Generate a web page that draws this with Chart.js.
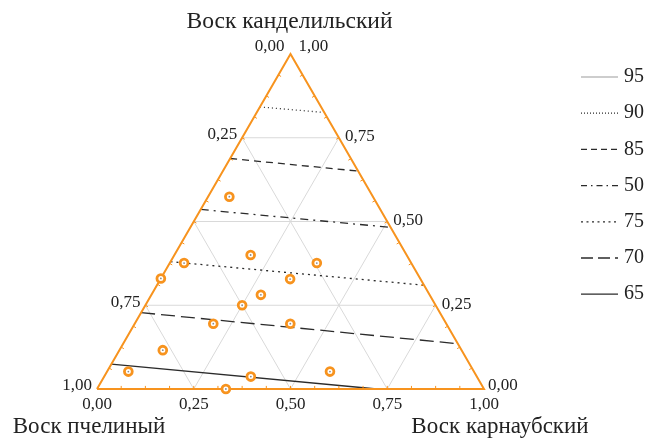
<!DOCTYPE html>
<html lang="ru">
<head>
<meta charset="utf-8">
<title>Воск: тройная диаграмма</title>
<script src="https://cdn.jsdelivr.net/npm/chart.js@4/dist/chart.umd.min.js"></script>
<style>
  html, body { margin: 0; padding: 0; background: #fff; }
  #wrap { width: 648px; height: 438px; }
</style>
</head>
<body>
<div id="wrap"><canvas id="chart" width="648" height="438"></canvas></div>
<script>
// Component names (one per triangle vertex)
const axisBeeswax = 'Воск пчелиный';
const axisCarnauba = 'Воск карнаубский';
const axisCandelilla = 'Воск канделильский';

// Major tick fractions shared by all three axes
const tickValues = [0, 0.25, 0.5, 0.75, 1];
const minorStep = 1 / 16;

// Sample compositions (fractions of carnauba and candelilla; beeswax is the rest)
const sampleCarnauba   = [0.055, 0.197, 0.037, 0.380, 0.000, 0.335, 0.283, 0.250, 0.203, 0.402, 0.112, 0.055, 0.379, 0.576, 0.333];
const sampleCandelilla = [0.574, 0.400, 0.376, 0.376, 0.330, 0.328, 0.281, 0.250, 0.195, 0.195, 0.116, 0.052, 0.037, 0.052, 0.000];

// Iso-lines: level labels and their end points
const contourLevels = ['95', '90', '85', '50', '75', '70', '65'];
const contourStartCarnauba   = [null, 0.000, 0.000, 0.000, 0.000, 0.000, 0.000];
const contourStartCandelilla = [null, 0.842, 0.688, 0.536, 0.380, 0.228, 0.074];
const contourEndCarnauba     = [null, 0.168, 0.345, 0.512, 0.688, 0.857, 0.723];
const contourEndCandelilla   = [null, 0.826, 0.651, 0.483, 0.310, 0.136, 0.000];

// Styling
const ORANGE = '#F7931E';
const GRID = '#d9d9d9';
const INK = '#2b2b2b';
const contourDash = [[], [1, 3], [7, 5], [8, 5, 2, 5], [2, 4], [14, 6], []];
const legendDash  = [[], [1, 2], [6, 4], [6, 4, 1.5, 4], [2, 3.5], [12, 5], []];
const contourColor = ['#bdbdbd', INK, INK, INK, INK, INK, INK];
const SERIF = '"Liberation Serif", "DejaVu Serif", serif';

const H = Math.sqrt(3) / 2;
// ternary (carnauba, candelilla) -> cartesian
function tern(k, c) { return { x: k + c / 2, y: c * H }; }
const GAP = { x: null, y: null };

// Grid lines at the inner major ticks
const gridData = [];
tickValues.filter(t => t > 0 && t < 1).forEach(t => {
  gridData.push(tern(0, t), tern(1 - t, t), GAP);          // constant candelilla
  gridData.push(tern(t, 0), tern(t, 1 - t), GAP);          // constant carnauba
  gridData.push(tern(1 - t, 0), tern(0, 1 - t), GAP);      // constant beeswax
});

// Small inward ticks along the three edges
const tickLen = 0.008;
const tickData = [];
for (let i = 1; i < 16; i++) {
  const t = i * minorStep;
  // bottom edge, pointing up
  let p = tern(t, 0);
  tickData.push(p, { x: p.x, y: p.y + tickLen }, GAP);
  // left edge, pointing down-right
  p = tern(0, t);
  tickData.push(p, { x: p.x + tickLen * H, y: p.y - tickLen * 0.5 }, GAP);
  // right edge, pointing down-left
  p = tern(1 - t, t);
  tickData.push(p, { x: p.x - tickLen * H, y: p.y - tickLen * 0.5 }, GAP);
}

const frameData = [tern(0, 0), tern(1, 0), tern(0, 1), tern(0, 0)];
const sampleData = sampleCarnauba.map((k, i) => tern(k, sampleCandelilla[i]));

const datasets = [];
datasets.push({ label: 'centre', data: sampleData, showLine: false, pointRadius: 0.9,
  pointBackgroundColor: '#8a8a8a', pointBorderWidth: 0, order: 0, clip: false });
datasets.push({ label: 'samples', data: sampleData, showLine: false, pointRadius: 3.9,
  pointBorderWidth: 2.8, pointBorderColor: ORANGE, pointBackgroundColor: '#fff', order: 1, clip: false });
datasets.push({ label: 'frame', data: frameData, showLine: true, pointRadius: 0,
  borderColor: ORANGE, borderWidth: 2, order: 2, clip: false });
datasets.push({ label: 'ticks', data: tickData, showLine: true, spanGaps: false, pointRadius: 0,
  borderColor: ORANGE, borderWidth: 1, order: 3, clip: false });
contourLevels.forEach((lvl, i) => {
  if (contourStartCandelilla[i] === null) return;
  datasets.push({
    label: lvl,
    data: [tern(contourStartCarnauba[i], contourStartCandelilla[i]), tern(contourEndCarnauba[i], contourEndCandelilla[i])],
    showLine: true, pointRadius: 0, borderColor: contourColor[i], borderWidth: 1.3,
    borderDash: contourDash[i], order: 4, clip: false
  });
});
datasets.push({ label: 'grid', data: gridData, showLine: true, spanGaps: false, pointRadius: 0,
  borderColor: GRID, borderWidth: 1, order: 5, clip: false });

const fmt = v => v.toFixed(2).replace('.', ',');

// Axis labels, titles and the level legend
const ternaryText = {
  id: 'ternaryText',
  afterDraw(chart) {
    const ctx = chart.ctx;
    const sx = chart.scales.x, sy = chart.scales.y;
    const px = p => ({ x: sx.getPixelForValue(p.x), y: sy.getPixelForValue(p.y) });
    ctx.save();
    ctx.fillStyle = '#222';
    ctx.font = '17px ' + SERIF;
    ctx.textBaseline = 'middle';

    tickValues.forEach(t => {
      // bottom: carnauba
      let p = px(tern(t, 0));
      ctx.textAlign = 'center';
      ctx.fillText(fmt(t), p.x, p.y + 16);
      // left: beeswax (the middle label is not shown)
      p = px(tern(0, 1 - t));
      ctx.textAlign = 'right';
      if (t === 0) ctx.fillText(fmt(t), p.x - 6, p.y - 7);
      else if (t !== 0.5) ctx.fillText(fmt(t), p.x - 5, p.y - 3);
      // right: candelilla
      p = px(tern(1 - t, t));
      ctx.textAlign = 'left';
      if (t === 1) ctx.fillText(fmt(t), p.x + 8, p.y - 7);
      else if (t === 0) ctx.fillText(fmt(t), p.x + 4, p.y - 3);
      else ctx.fillText(fmt(t), p.x + 6, p.y - 1);
    });

    ctx.font = '23.5px ' + SERIF;
    ctx.textBaseline = 'alphabetic';
    ctx.textAlign = 'center';
    const top = px(tern(0, 1));
    ctx.fillText(axisCandelilla, top.x - 1, 28);
    ctx.font = '23px ' + SERIF;
    ctx.fillText(axisBeeswax, 89, 433);
    ctx.fillText(axisCarnauba, 500, 433);

    // legend
    ctx.font = '20px ' + SERIF;
    ctx.textBaseline = 'middle';
    ctx.textAlign = 'left';
    contourLevels.forEach((lvl, i) => {
      const y = 77 + i * 36.2;
      ctx.beginPath();
      ctx.setLineDash(legendDash[i]);
      ctx.strokeStyle = contourColor[i];
      ctx.lineWidth = 1.3;
      ctx.moveTo(581, y);
      ctx.lineTo(618, y);
      ctx.stroke();
      ctx.setLineDash([]);
      ctx.fillStyle = '#222';
      ctx.fillText(lvl, 624, y);
    });
    ctx.restore();
  }
};

new Chart(document.getElementById('chart'), {
  type: 'scatter',
  data: { datasets },
  options: {
    responsive: false,
    animation: false,
    layout: { padding: { left: 97, right: 164, top: 54, bottom: 49 } },
    plugins: { legend: { display: false }, tooltip: { enabled: false } },
    scales: {
      x: { type: 'linear', min: 0, max: 1, display: false },
      y: { type: 'linear', min: 0, max: H, display: false }
    }
  },
  plugins: [ternaryText]
});
</script>
</body>
</html>
